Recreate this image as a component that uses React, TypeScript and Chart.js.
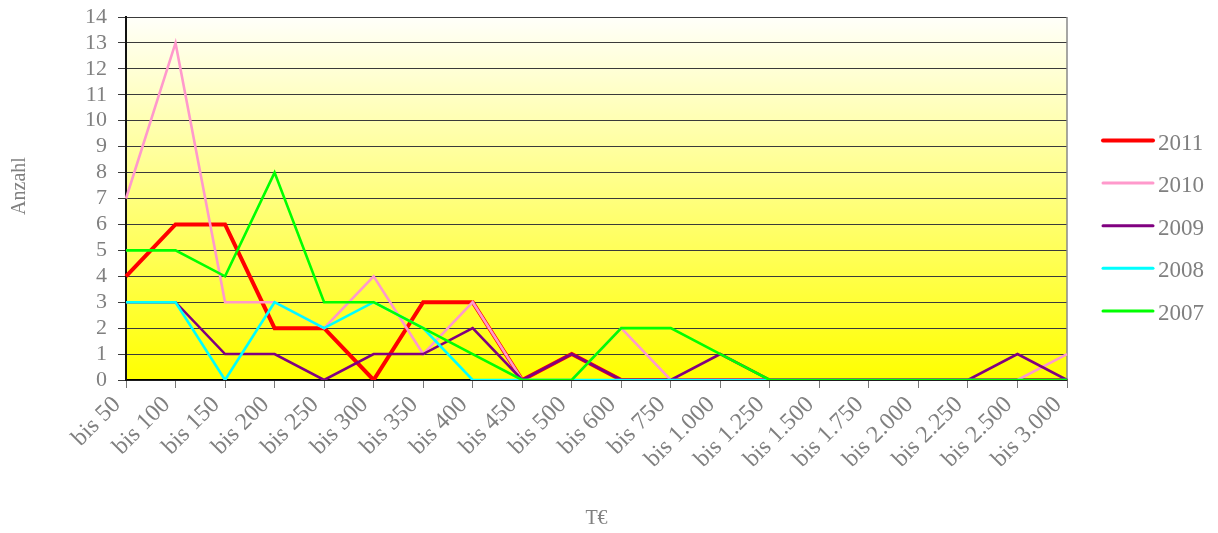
import React, { useEffect, useRef } from 'react';
import { Chart, registerables } from 'chart.js';

Chart.register(...registerables);

const categories = [
  'bis 50', 'bis 100', 'bis 150', 'bis 200', 'bis 250', 'bis 300', 'bis 350', 'bis 400',
  'bis 450', 'bis 500', 'bis 600', 'bis 750', 'bis 1.000', 'bis 1.250', 'bis 1.500',
  'bis 1.750', 'bis 2.000', 'bis 2.250', 'bis 2.500', 'bis 3.000',
];
const s2011 = [4, 6, 6, 2, 2, 0, 3, 3, 0, 1, 0, 0, 0, 0, 0, 0, 0, 0, 0, 0];
const s2010 = [7, 13, 3, 3, 2, 4, 1, 3, 0, 0, 2, 0, 0, 0, 0, 0, 0, 0, 0, 1];
const s2009 = [3, 3, 1, 1, 0, 1, 1, 2, 0, 1, 0, 0, 1, 0, 0, 0, 0, 0, 1, 0];
const s2008 = [3, 3, 0, 3, 2, 3, 2, 0, 0, 0, 0, 0, 0, 0, 0, 0, 0, 0, 0, 0];
const s2007 = [5, 5, 4, 8, 3, 3, 2, 1, 0, 0, 2, 2, 1, 0, 0, 0, 0, 0, 0, 0];
const seriesLabels = ['2011', '2010', '2009', '2008', '2007'];
const seriesData = [s2011, s2010, s2009, s2008, s2007];
const seriesColors = ['#FF0000', '#FF99CC', '#800080', '#00FFFF', '#00FF00'];
const seriesWidths = [4, 2.6, 2.6, 2.6, 2.6];
const yMin = 0;
const yMax = 14;
const yStep = 1;
const xTitle = 'T€';
const yTitle = 'Anzahl';

const FONT = "'Liberation Serif', 'Times New Roman', serif";
const GRAY = '#808080';

const bgPlugin = {
  id: 'bgPlugin',
  beforeDraw(chart: any) {
    const { ctx, chartArea } = chart;
    const { left, right, top, bottom } = chartArea;
    const g = ctx.createLinearGradient(0, top, 0, bottom);
    g.addColorStop(0, '#FFFFFA');
    g.addColorStop(1, '#FFFF00');
    ctx.save();
    ctx.fillStyle = g;
    ctx.fillRect(left, top, right - left, bottom - top);
    ctx.restore();
  },
  beforeDatasetsDraw(chart: any) {
    const { ctx, chartArea } = chart;
    const { right, top, bottom } = chartArea;
    ctx.save();
    ctx.strokeStyle = '#888888';
    ctx.lineWidth = 1.5;
    ctx.beginPath();
    ctx.moveTo(right, top);
    ctx.lineTo(right, bottom);
    ctx.stroke();
    ctx.restore();
  },
};

const legendPlugin = {
  id: 'legendPlugin',
  afterDraw(chart: any) {
    const { ctx } = chart;
    ctx.save();
    // y axis title
    ctx.save();
    ctx.translate(20, 186);
    ctx.rotate(-Math.PI / 2);
    ctx.fillStyle = GRAY;
    ctx.font = `20px ${FONT}`;
    ctx.textAlign = 'center';
    ctx.textBaseline = 'middle';
    ctx.fillText(yTitle, 0, 0);
    ctx.restore();
    seriesLabels.forEach((label, i) => {
      const y = 140.5 + i * 42.6;
      ctx.strokeStyle = seriesColors[i];
      ctx.lineWidth = i === 0 ? 4 : 3;
      ctx.lineCap = 'round';
      ctx.beginPath();
      ctx.moveTo(1103, y);
      ctx.lineTo(1153, y);
      ctx.stroke();
      ctx.fillStyle = GRAY;
      ctx.font = `23px ${FONT}`;
      ctx.textAlign = 'left';
      ctx.textBaseline = 'alphabetic';
      ctx.fillText(label, 1158, y + 9);
    });
    ctx.restore();
  },
};

export default function App() {
  const ref = useRef<HTMLCanvasElement | null>(null);

  useEffect(() => {
    if (!ref.current) return;
    const chart = new Chart(ref.current, {
      type: 'line',
      data: {
        labels: categories,
        datasets: seriesLabels.map((label, i) => ({
          label,
          data: seriesData[i],
          borderColor: seriesColors[i],
          backgroundColor: seriesColors[i],
          borderWidth: seriesWidths[i],
          pointRadius: 0,
          tension: 0,
          fill: false,
          order: 4 - i,
        })),
      },
      options: {
        animation: false,
        responsive: true,
        maintainAspectRatio: false,
        layout: { padding: { top: 17, right: 151, bottom: 2, left: 0 } },
        plugins: {
          legend: { display: false },
          tooltip: { enabled: false },
        },
        scales: {
          x: {
            offset: false,
            grid: {
              drawOnChartArea: false,
              drawTicks: true,
              tickLength: 8,
              color: '#777777',
            },
            border: { color: '#000000', width: 1.5 },
            ticks: {
              autoSkip: false,
              maxRotation: 45,
              minRotation: 45,
              color: GRAY,
              font: { family: FONT, size: 24 },
              padding: 3,
              labelOffset: -9,
            },
            title: {
              display: true,
              text: xTitle,
              color: GRAY,
              font: { family: FONT, size: 20 },
              padding: { top: 0, bottom: 0 },
            },
            afterFit(scale: any) {
              scale.height = 151;
            },
          },
          y: {
            min: yMin,
            max: yMax,
            grid: {
              color: '#3a3a3a',
              lineWidth: 1,
              tickLength: 8,
              drawTicks: true,
            },
            border: { color: '#111111', width: 2 },
            ticks: {
              stepSize: yStep,
              autoSkip: false,
              color: GRAY,
              font: { family: FONT, size: 22 },
              padding: 11,
            },
            title: { display: false, text: yTitle },
            afterFit(scale: any) {
              scale.width = 126;
              scale.paddingTop = 0;
              scale.paddingBottom = 0;
            },
          },
        },
      },
      plugins: [bgPlugin, legendPlugin],
    });
    return () => chart.destroy();
  }, []);

  return (
    <div style={{ position: 'fixed', left: 0, top: 0, width: 1218, height: 533, background: '#fff' }}>
      <canvas ref={ref} />
    </div>
  );
}
